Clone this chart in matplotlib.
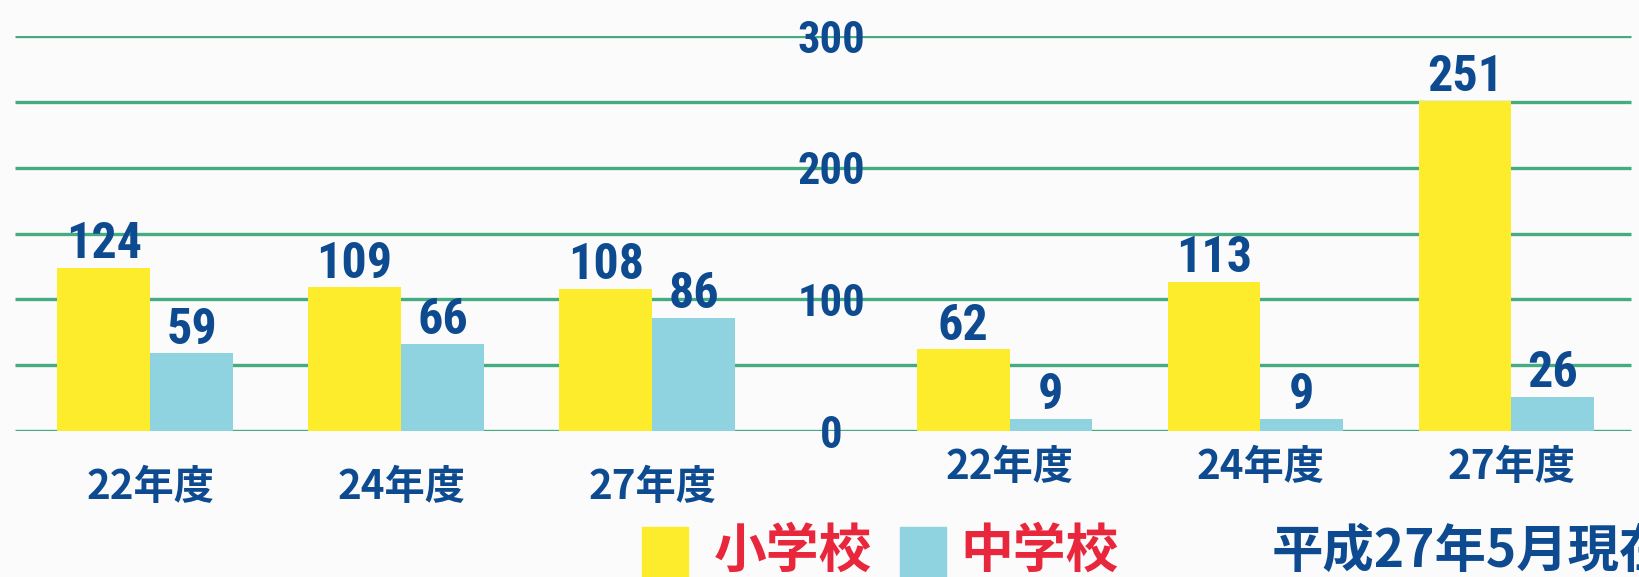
import numpy as np
import matplotlib
matplotlib.use("Agg")
import matplotlib.pyplot as plt
from matplotlib import font_manager
from matplotlib.patches import Rectangle

# ── data ──────────────────────────────────────────────────────────────────────
years = ["22年度", "24年度", "27年度"]
left_elem = [124, 109, 108]      # 小学校, left block
left_junior = [59, 66, 86]       # 中学校, left block
right_elem = [62, 113, 251]      # 小学校, right block
right_junior = [9, 9, 26]        # 中学校, right block
y_ticks = [0, 100, 200, 300]
grid_levels = [0, 50, 100, 150, 200, 250, 300]
legend_labels = ["小学校", "中学校"]
note = "平成27年5月現在"

# ── style ─────────────────────────────────────────────────────────────────────
BG = "#fbfbfb"
YELLOW = "#fdec2c"
BLUE = "#8fd2e0"
GREEN = "#45ac82"
NAVY = "#0d4a8f"
RED = "#e8263c"

names = {f.name for f in font_manager.fontManager.ttflist}
NUM_FONT = next((n for n in ["Liberation Sans Narrow", "Roboto Condensed"] if n in names),
                "Liberation Sans")
CJK = ["Noto Sans CJK JP", "DejaVu Sans"]

W, H = 1640, 577
fig = plt.figure(figsize=(W / 100, H / 100), dpi=100, facecolor=BG)
# axes: y=0 at 431 px from top, y=300 at 36 px from top
ax = fig.add_axes([0, (H - 431) / H, 1, 395 / H])
ax.set_xlim(-0.598, 5.936)
ax.set_ylim(0, 300)
ax.axis("off")

xl = np.arange(len(years))
xr = np.arange(len(years)) + 3.424
w_y, w_b = 0.37, 0.33

ax.hlines(grid_levels, -0.54, 5.90, color=GREEN, lw=2.4, zorder=1)

for xs, elem, jun, cat_off in [(xl, left_elem, left_junior, -41),
                               (xr, right_elem, right_junior, -26)]:
    ax.bar(xs, elem, width=-w_y, align="edge", color=YELLOW, zorder=2)
    ax.bar(xs, jun, width=w_b, align="edge", color=BLUE, zorder=2)
    for x, v in zip(xs, elem):
        ax.annotate(str(v), (x - w_y / 2, v), xytext=(0, 7), textcoords="offset points",
                    ha="center", va="baseline", fontsize=36, fontweight="bold",
                    color=NAVY, family=NUM_FONT, zorder=4)
    for x, v in zip(xs, jun):
        ax.annotate(str(v), (x + w_b / 2, v), xytext=(0, 7), textcoords="offset points",
                    ha="center", va="baseline", fontsize=36, fontweight="bold",
                    color=NAVY, family=NUM_FONT, zorder=4)
    for x, lab in zip(xs, years):
        ax.annotate(lab, (x, 0), xytext=(0, cat_off), textcoords="offset points",
                    ha="center", va="center", fontsize=29, fontweight="bold",
                    color=NAVY, family=CJK, annotation_clip=False)

# y-axis labels in the middle
for t in y_ticks:
    ax.annotate(str(t), (2.713, t), xytext=(0, -12), textcoords="offset points",
                ha="center", va="baseline", fontsize=32, fontweight="bold",
                color=NAVY, family=NUM_FONT, zorder=3, annotation_clip=False)

# ── legend + note ─────────────────────────────────────────────────────────────
sq_w, sq_h = 46 / W, 50 / H
for x0, col in [(642, YELLOW), (900, BLUE)]:
    fig.patches.append(Rectangle((x0 / W, 0), sq_w, sq_h, color=col,
                                 transform=fig.transFigure, figure=fig))
for x0, lab in [(714, legend_labels[0]), (960, legend_labels[1])]:
    fig.text(x0 / W, (H - 551) / H, lab, ha="left", va="center", fontsize=38,
             fontweight="bold", color=RED, family=CJK)
fig.text(1272 / W, (H - 551) / H, note, ha="left", va="center", fontsize=37,
         fontweight="bold", color=NAVY, family=CJK)

fig.savefig("out.png", dpi=100, facecolor=BG)
